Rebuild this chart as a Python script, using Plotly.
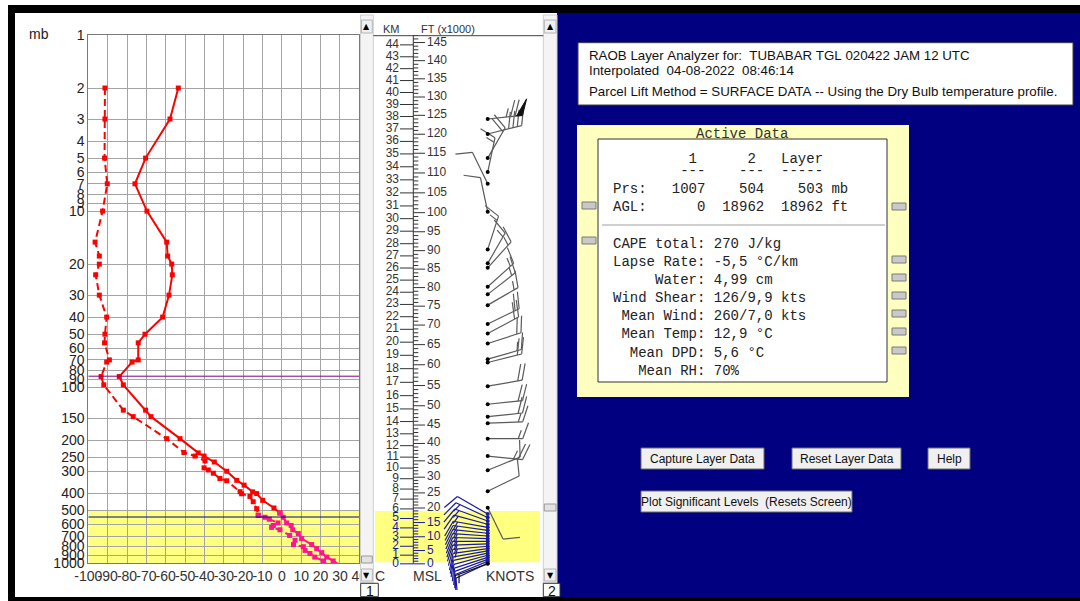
import math
import numpy as np
import plotly.graph_objects as go

W, H = 1080, 601
SANS = "Liberation Sans"
MONO = "Liberation Mono"

# ---------------- sounding (pressure mb, deg C) ----------------
P_T = [2, 3, 5, 7, 10, 15, 18, 20, 23, 30, 40, 50, 56, 70, 72, 87, 97, 135, 147, 196,
       236, 246, 266, 300, 338, 360, 393, 402, 439, 485, 518, 548, 590, 610, 645, 678,
       724, 783, 826, 870, 922, 970, 1007]
T_C = [-53.5, -57.8, -70.4, -75.9, -69.7, -59.5, -59.0, -56.9, -56.6, -58.3, -61.6, -70.7,
       -74.2, -74.2, -77.4, -84.0, -81.9, -70.4, -67.6, -52.6, -43.2, -40.2, -34.9, -28.5,
       -23.3, -19.5, -15.1, -13.0, -9.9, -4.1, -1.0, 0.7, 2.5, 4.8, 5.6, 8.5, 10.2, 15.4,
       18.0, 20.6, 23.2, 26.5, 29.0]
P_TD = [2, 3, 5, 7, 10, 15, 18, 20, 23, 30, 40, 50, 56, 70, 72, 87, 97, 135, 147, 196,
        235, 246, 262, 287, 295, 308, 330, 340, 392, 403, 417, 447, 490, 534, 548, 562,
        590, 610, 625, 645, 695, 740, 783, 805, 845, 880, 922, 970, 1007]
TD_C = [-91.4, -91.4, -91.6, -90.2, -92.6, -96.5, -94.3, -94.3, -96.2, -94.3, -90.5, -91.4,
        -91.6, -89.1, -90.5, -93.4, -92.0, -81.9, -76.8, -59.5, -50.6, -44.9, -39.7, -40.2,
        -38.0, -35.4, -32.0, -28.5, -21.6, -20.8, -16.5, -14.8, -13.0, -12.2, -8.7, -6.5,
        -2.0, -4.4, -5.3, -1.0, 4.0, 6.8, 6.0, 11.1, 12.0, 14.5, 17.0, 21.5, 23.0]

LAYER_TOP_MB = 504
LAYER_BOT_MB = 1007
TROPOPAUSE_MB = 86.6
LCL_MB = 546

P_TICKS = [1, 2, 3, 4, 5, 6, 7, 8, 9, 10, 20, 30, 40, 50, 60, 70, 80, 90, 100, 150, 200,
           250, 300, 400, 500, 600, 700, 800, 900, 1000]
T_TICKS = list(range(-100, 41, 10))

# ---------------- winds aloft ----------------
WIND_MB = [3.0, 3.65, 5.0, 6.0, 7.0, 10.1, 16.5, 19.8, 21.0, 26.9, 29.7, 34.2, 43.8, 49.5,
           56.5, 69.3, 72.4, 98.7, 125, 147, 160, 196, 246, 296, 390, 483, 525, 550, 575,
           600, 625, 650, 675, 700, 725, 750, 775, 800, 825, 850, 875, 900, 925, 950, 975,
           1000, 1007]
WIND_DIR = [84, 76, 30, 12, 334, 348, 18, 30, 42, 48, 52, 60, 64, 62, 72, 74, 76, 80, 84,
            84, 88, 90, 96, 68, 64, 154, 300, 295, 290, 285, 280, 278, 276, 274, 272, 270,
            268, 265, 262, 260, 258, 255, 252, 250, 248, 245, 250]
WIND_KT = [75, 40, 20, 15, 10, 10, 15, 15, 15, 15, 15, 15, 20, 20, 20, 15, 20, 20, 20, 20,
           15, 15, 25, 10, 10, 10, 10, 15, 15, 15, 15, 15, 15, 15, 15, 15, 15, 15, 10, 10,
           10, 10, 10, 10, 10, 10, 5]

KM_LABELS = list(range(0, 45))
KFT_MAX = 147

# ---------------- analyzer readout ----------------
TITLE_LINES = ["RAOB Layer Analyzer for:  TUBABAR TGL 020422 JAM 12 UTC",
               "Interpolated  04-08-2022  08:46:14",
               "Parcel Lift Method = SURFACE DATA -- Using the Dry Bulb temperature profile."]
LAYER_AGL_FT = [0, 18962]
READOUT = [("CAPE total", "270 J/kg"), ("Lapse Rate", "-5,5 °C/km"), ("Water", "4,99 cm"),
           ("Wind Shear", "126/9,9 kts"), ("Mean Wind", "260/7,0 kts"),
           ("Mean Temp", "12,9 °C"), ("Mean DPD", "5,6 °C"), ("Mean RH", "70%")]

# ---------------- frame geometry (pixels) ----------------
PLOT_L, PLOT_R, PLOT_T, PLOT_B = 88.3, 359.3, 35.0, 563.3
DEC_PX = (PLOT_B - PLOT_T) / 3.0
WIND_L, WIND_R, WIND_B = 373.0, 541.0, 590.0
STATION_X = 487.7
SHAFT_PX, BARB_PX, HALF_PX, STEP_PX, BARB_TURN = 35.0, 17.0, 9.0, 4.5, 70.0

RED = "#ff0000"
PINK = "#ff1493"
NAVY = "#000080"
BLUE = "#1a1aa0"
TXT = "#333333"

fig = go.Figure()

# ---- temperature / dew point ----
def split_layer(p, v):
    k = next(i for i, pp in enumerate(p) if pp >= LAYER_TOP_MB)
    return (p[:k + 1], v[:k + 1]), (p[k:], v[k:])

for p, v, dash in [(P_T, T_C, "solid"), (P_TD, TD_C, "7px,4px")]:
    upper, lower = split_layer(p, v)
    for (pp, vv), col in [(upper, RED), (lower, PINK)]:
        fig.add_trace(go.Scatter(x=vv, y=pp, mode="lines+markers", xaxis="x", yaxis="y",
                                 line=dict(color=col, width=2, dash=dash),
                                 marker=dict(symbol="square", size=5, color=col),
                                 cliponaxis=False, hoverinfo="skip", showlegend=False))

for pmb, col in [(TROPOPAUSE_MB, "#800080"), (LCL_MB, "#0000a0")]:
    fig.add_trace(go.Scatter(x=[T_TICKS[0], T_TICKS[-1]], y=[pmb, pmb], mode="lines",
                             xaxis="x", yaxis="y", line=dict(color=col, width=1),
                             hoverinfo="skip", showlegend=False))
    fig.add_trace(go.Scatter(x=[T_TICKS[0] - 2.0], y=[pmb], mode="markers", xaxis="x", yaxis="y",
                             marker=dict(symbol="triangle-right", size=8, color=col),
                             cliponaxis=False, hoverinfo="skip", showlegend=False))

# ---- height scale from the hypsometric equation ----
RD_G = 287.05 / 9.80665
lp_t = np.log(np.array(P_T, float))
td_on_t = np.interp(lp_t, np.log(np.array(P_TD, float)), TD_C)
e = 6.112 * np.exp(17.67 * td_on_t / (td_on_t + 243.5))
w = 0.622 * e / (np.array(P_T, float) - e)
tv = (np.array(T_C) + 273.15) * (1 + 0.61 * w)
z = np.zeros(len(P_T))
for i in range(len(P_T) - 2, -1, -1):
    z[i] = z[i + 1] + RD_G * 0.5 * (tv[i] + tv[i + 1]) * (lp_t[i + 1] - lp_t[i])


def p_of_z(zm):
    if zm <= z[0]:
        return float(np.exp(np.interp(zm, z[::-1], lp_t[::-1])))
    return float(np.exp(lp_t[0] - (zm - z[0]) / (RD_G * tv[0])))


z_layer_top = float(np.interp(math.log(LAYER_TOP_MB), lp_t, z))

AXIS_X = 413.3
segs = {TXT: ([], []), BLUE: ([], [])}
for k in KM_LABELS:
    c = BLUE if k * 1000 <= z_layer_top else TXT
    pk = p_of_z(k * 1000.0)
    segs[c][0].extend([400.0, AXIS_X, None])
    segs[c][1].extend([pk, pk, None])
for f in range(0, KFT_MAX + 1):
    zm = f * 304.8
    c = BLUE if zm <= z_layer_top else TXT
    pf = p_of_z(zm)
    segs[c][0].extend([AXIS_X, AXIS_X + (11.7 if f % 5 == 0 else 5.0), None])
    segs[c][1].extend([pf, pf, None])
segs[TXT][0].extend([AXIS_X, AXIS_X, None])
segs[TXT][1].extend([p_of_z(0.0), p_of_z(KFT_MAX * 304.8), None])
for c, (xs, ys) in segs.items():
    fig.add_trace(go.Scatter(x=xs, y=ys, mode="lines", xaxis="x2", yaxis="y2",
                             line=dict(color=c, width=1), hoverinfo="skip", showlegend=False))

fig.add_trace(go.Scatter(
    x=[399.0] * len(KM_LABELS), y=[p_of_z(k * 1000.0) for k in KM_LABELS],
    text=[str(k) for k in KM_LABELS], mode="text", textposition="middle left",
    textfont=dict(family=SANS, size=12,
                  color=[BLUE if k * 1000 <= z_layer_top else TXT for k in KM_LABELS]),
    xaxis="x2", yaxis="y2", cliponaxis=False, hoverinfo="skip", showlegend=False))
kft_lab = list(range(0, 146, 5))
fig.add_trace(go.Scatter(
    x=[427.0] * len(kft_lab), y=[p_of_z(f * 304.8) for f in kft_lab],
    text=[str(f) for f in kft_lab], mode="text", textposition="middle right",
    textfont=dict(family=SANS, size=12,
                  color=[BLUE if f * 304.8 <= z_layer_top else TXT for f in kft_lab]),
    xaxis="x2", yaxis="y2", cliponaxis=False, hoverinfo="skip", showlegend=False))


# ---- wind barbs ----
def barb_paths(x0, p, wdir, kt):
    th = math.radians(wdir)
    ux, uy = math.sin(th), math.cos(th)
    a = math.atan2(uy, ux) + math.radians(BARB_TURN)
    bx, by = math.cos(a), math.sin(a)

    def pt(dx, dy):
        return x0 + dx, p * 10 ** (-dy / DEC_PX)

    lines = [[pt(0, 0), pt(ux * SHAFT_PX, uy * SHAFT_PX)]]
    flags = []
    spd = int(round(kt / 5.0)) * 5
    n50, rem = divmod(spd, 50)
    n10, rem = divmod(rem, 10)
    n5 = rem // 5
    s = SHAFT_PX
    for _ in range(n50):
        flags.append([pt(ux * s, uy * s), pt(ux * s + bx * BARB_PX, uy * s + by * BARB_PX),
                      pt(ux * (s - 6), uy * (s - 6)), pt(ux * s, uy * s)])
        s -= 7.5
    for _ in range(n10):
        lines.append([pt(ux * s, uy * s), pt(ux * s + bx * BARB_PX, uy * s + by * BARB_PX)])
        s -= STEP_PX
    if n5:
        if spd < 10:
            s -= STEP_PX
        lines.append([pt(ux * s, uy * s), pt(ux * s + bx * HALF_PX, uy * s + by * HALF_PX)])
    return lines, flags


def wind_color(p):
    if p >= LAYER_BOT_MB:
        return "#111111"
    return BLUE if p >= LAYER_TOP_MB else "#5a5a5a"


groups = {}
flag_xy = ([], [])
for p, d, kt in zip(WIND_MB, WIND_DIR, WIND_KT):
    lines, flags = barb_paths(STATION_X, p, d, kt)
    gx, gy = groups.setdefault(wind_color(p), ([], []))
    for ln in lines:
        gx.extend([q[0] for q in ln] + [None])
        gy.extend([q[1] for q in ln] + [None])
    for fl in flags:
        flag_xy[0].extend([q[0] for q in fl] + [None])
        flag_xy[1].extend([q[1] for q in fl] + [None])
for c, (gx, gy) in groups.items():
    fig.add_trace(go.Scatter(x=gx, y=gy, mode="lines", xaxis="x2", yaxis="y2",
                             line=dict(color=c, width=1.2), hoverinfo="skip", showlegend=False))
if flag_xy[0]:
    fig.add_trace(go.Scatter(x=flag_xy[0], y=flag_xy[1], mode="lines", fill="toself",
                             fillcolor="#111111", xaxis="x2", yaxis="y2",
                             line=dict(color="#111111", width=1), hoverinfo="skip",
                             showlegend=False))
fig.add_trace(go.Scatter(
    x=[STATION_X] * len(WIND_MB), y=WIND_MB, mode="markers", xaxis="x2", yaxis="y2",
    marker=dict(size=4, color=[BLUE if LAYER_TOP_MB <= p < LAYER_BOT_MB else "#000000"
                               for p in WIND_MB]),
    cliponaxis=False, hoverinfo="skip", showlegend=False))

# ---------------- static panels ----------------
shapes, annotations = [], []


def rect(x0, y0, x1, y1, fill, line=None, lw=1, layer="below"):
    shapes.append(dict(type="rect", xref="paper", yref="paper", x0=x0 / W, x1=x1 / W,
                       y0=1 - y1 / H, y1=1 - y0 / H, fillcolor=fill, layer=layer,
                       line=dict(color=line if line else fill, width=lw if line else 0)))


def seg(x0, y0, x1, y1, color, lw=1, layer="above"):
    shapes.append(dict(type="line", xref="paper", yref="paper", x0=x0 / W, x1=x1 / W,
                       y0=1 - y0 / H, y1=1 - y1 / H, layer=layer,
                       line=dict(color=color, width=lw)))


def text(x, y, s, size=14, color="#000000", family=SANS, anchor="left"):
    annotations.append(dict(x=x / W, y=1 - y / H, xref="paper", yref="paper",
                            text=s.replace(" ", "\u00a0"), showarrow=False, xanchor=anchor,
                            yanchor="middle", borderpad=0,
                            font=dict(family=family, size=size, color=color)))


# layer highlight in both panels
shapes.append(dict(type="rect", xref="x", yref="y", x0=T_TICKS[0], x1=T_TICKS[-1],
                   y0=LAYER_TOP_MB, y1=LAYER_BOT_MB,
                   fillcolor="#ffff80", line=dict(width=0), layer="below"))
shapes.append(dict(type="rect", xref="x2", yref="y2", x0=375, x1=540,
                   y0=LAYER_TOP_MB, y1=LAYER_BOT_MB - 20,
                   fillcolor="#ffff80", line=dict(width=0), layer="below"))

# outer frame
rect(8, 5, W, 13, "#000000")
rect(8, 5, 15, H, "#000000")
rect(8, 597, W, H, "#000000")

# scroll bars and panel dividers
for x0, x1, thumb in [(360.5, 373.3, (556, 563)), (543.3, 557, (504, 511))]:
    rect(x0, 15, x1, 583, "#f4f4f4", "#cfcfcf", 1, layer="above")
    rect(x0 + 1, thumb[0], x1 - 1, thumb[1], "#e2e2e2", "#9a9a9a", 1, layer="above")
    rect(x0 + 1, 20, x1 - 1, 33, "#f0f0f0", "#b4b4b4", 1, layer="above")
    rect(x0 + 1, 569, x1 - 1, 581, "#f0f0f0", "#b4b4b4", 1, layer="above")
    text((x0 + x1) / 2, 27, "▲", 8, "#000000", "DejaVu Sans", "center")
    text((x0 + x1) / 2, 575, "▼", 8, "#000000", "DejaVu Sans", "center")
rect(360.7, 583.3, 378.3, 596.7, "#ffffff", "#333333", 1, layer="above")
rect(543.3, 583.3, 560, 596.7, "#ffffff", "#333333", 1, layer="above")
text(369.5, 590.5, "1", 14, "#111111", SANS, "center")
text(551.6, 590.5, "2", 14, "#111111", SANS, "center")
seg(373.3, 35.7, 543.3, 35.7, "#404040", 1)

text(28, 34, "mb", 14, "#222222")
text(380, 575.5, "C", 14, TXT, SANS, "center")
text(427, 575.5, "MSL", 14, TXT, SANS, "center")
text(510, 575.5, "KNOTS", 14, TXT, SANS, "center")
text(391.7, 29, "KM", 11, TXT, SANS, "center")
text(448, 29, "FT (x1000)", 11, TXT, SANS, "center")

# analyzer panel
rect(557, 13, W, 597, NAVY)
rect(578, 42.7, 1073, 105, "#ffffff", "#404040", 1)
for line, yy in zip(TITLE_LINES, [55.7, 70.7, 91.7]):
    text(588, yy, line, 13.3, "#111111")

rect(577, 125, 909, 397, "#ffffc0")
rect(598, 139, 887, 382, "#ffffff", "#333333", 1)
seg(602, 225, 885, 225, "#d0d0d0", 2)
text(742, 134, "Active Data", 14, TXT, MONO, "center")

COL0 = 612
layer_depth = LAYER_BOT_MB - LAYER_TOP_MB
rows = [
    (159, "         1      2   Layer"),
    (171, "        ---    ---  -----"),
    (189, f"Prs:{LAYER_BOT_MB:>7}{LAYER_TOP_MB:>7}{layer_depth:>7} mb"),
    (207, f"AGL:{LAYER_AGL_FT[0]:>7}{LAYER_AGL_FT[1]:>7}{LAYER_AGL_FT[1] - LAYER_AGL_FT[0]:>7} ft"),
]
for k, (name, val) in enumerate(READOUT):
    rows.append((244 + k * 18.1, f"{name:>10}: {val}"))
for yy, s in rows:
    text(COL0, yy, s, 14, "#222222", MONO)

for y0 in [202, 237]:
    rect(582, y0, 596, y0 + 7, "#c9c9c9", "#7a7a7a", 1)
for y0 in [203, 256, 274, 292, 310, 328, 347]:
    rect(892, y0, 906, y0 + 7, "#c9c9c9", "#7a7a7a", 1)

BUTTONS = [("Capture Layer Data", 641, 448, 764, 469), ("Reset Layer Data", 792, 448, 901, 469),
           ("Help", 928, 448, 970, 469),
           ("Plot Significant Levels  (Resets Screen)", 641, 491, 852, 512)]
for label, x0, y0, x1, y1 in BUTTONS:
    rect(x0, y0, x1, y1, "#f0f0f0", "#6e6e6e", 1)
    text((x0 + x1) / 2, (y0 + y1) / 2, label, 12, "#111111", SANS, "center")

# ---------------- axes ----------------
fig.update_layout(
    width=W, height=H, autosize=False,
    margin=dict(l=0, r=0, t=0, b=0, pad=0, autoexpand=False),
    paper_bgcolor="#ffffff", plot_bgcolor="rgba(0,0,0,0)",
    showlegend=False, shapes=shapes, annotations=annotations,
    xaxis=dict(domain=[PLOT_L / W, PLOT_R / W], range=[T_TICKS[0], T_TICKS[-1]],
               tickvals=T_TICKS, ticktext=[str(t) for t in T_TICKS], tickangle=0,
               tickfont=dict(family=SANS, size=14, color=TXT), ticks="",
               showgrid=True, gridcolor="#a4a4a4", gridwidth=1, zeroline=False,
               showline=True, mirror=True, linecolor="#7a7a7a", linewidth=1,
               anchor="y", fixedrange=True, automargin=False),
    yaxis=dict(domain=[1 - PLOT_B / H, 1 - PLOT_T / H], type="log", range=[3, 0],
               tickvals=P_TICKS, ticktext=[str(p) for p in P_TICKS],
               tickfont=dict(family=SANS, size=14, color="#222222"), ticks="",
               showgrid=True, gridcolor="#a4a4a4", gridwidth=1, zeroline=False,
               showline=True, mirror=True, linecolor="#7a7a7a", linewidth=1,
               anchor="x", fixedrange=True, automargin=False),
    xaxis2=dict(domain=[WIND_L / W, WIND_R / W], range=[WIND_L, WIND_R], visible=False,
                anchor="y2", fixedrange=True, automargin=False),
    yaxis2=dict(domain=[1 - WIND_B / H, 1 - PLOT_T / H], type="log",
                range=[(WIND_B - PLOT_T) / DEC_PX, 0], visible=False,
                anchor="x2", fixedrange=True, automargin=False),
)

fig.write_html("out.html", config={"displayModeBar": False})
